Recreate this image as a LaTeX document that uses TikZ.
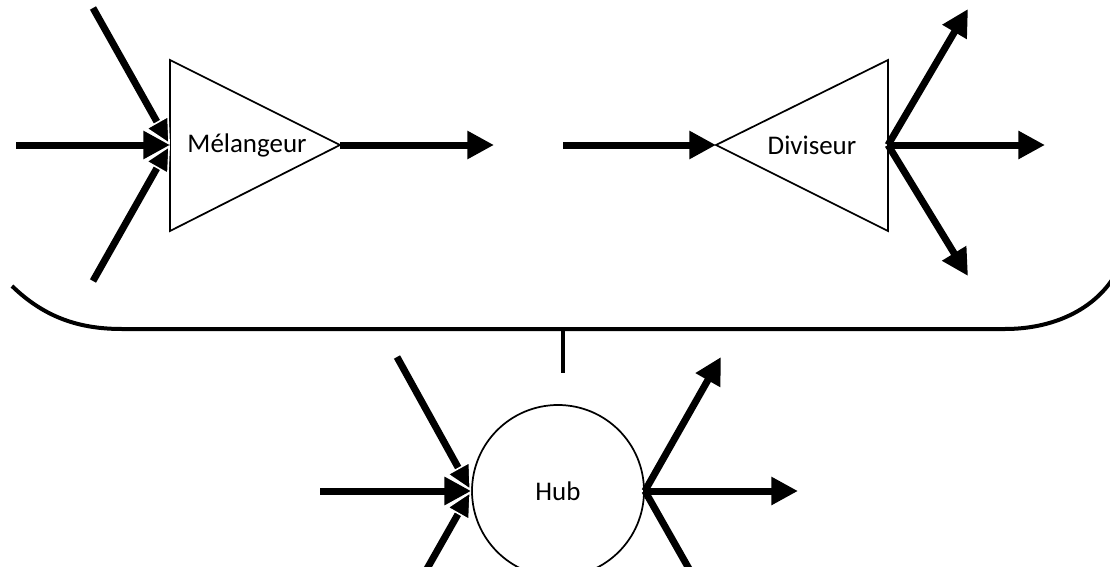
\documentclass[tikz,border=0pt]{standalone}
\usepackage{fontspec}
\setmainfont{Carlito}
\usetikzlibrary{arrows.meta}
\tikzset{
  flow/.style={line width=5.25pt, -{Triangle[length=20pt,width=20pt]}},
  flowin/.style={line width=5.25pt, -{Triangle[length=20pt,width=20pt,fill=black,color=white,line width=1.2pt]}},
  flowplain/.style={line width=5.25pt},
  shapeline/.style={line width=1.3pt},
  lbl/.style={font=\fontsize{20.2}{24}\selectfont, inner sep=0pt}
}
\begin{document}
\begin{tikzpicture}[x=0.75pt,y=-0.75pt]
\useasboundingbox (0,0) rectangle (1110,567);
\clip (0,0) rectangle (1110,567);
% shapes
\draw[shapeline] (170,60) -- (340,145) -- (170,231) -- cycle;
\draw[shapeline] (716,145) -- (888,60) -- (888,231) -- cycle;
\node[lbl] (mel) at (247,145) {Mélangeur};
\node[lbl] (div) at (812,145) {Diviseur};
\node[draw, circle, shapeline, minimum size=129pt, inner sep=0pt, font=\fontsize{20.2}{24}\selectfont] (hub) at (558,491) {Hub};
% connection points
\coordinate (melin) at (170,145);
\coordinate (melout) at (340,145);
\coordinate (divin) at (716,145);
\coordinate (divout) at (888,145);
% free ends
\coordinate (m1) at (16,145);
\coordinate (m2) at (93,8);
\coordinate (m3) at (93,281);
\coordinate (m4) at (494,145);
\coordinate (d0) at (563,145);
\coordinate (d1) at (968,9);
\coordinate (d2) at (1045,145);
\coordinate (d3) at (968,276);
\coordinate (h1) at (320,491);
\coordinate (h2) at (397,357);
\coordinate (h3) at (390,634);
\coordinate (h4) at (798,491);
\coordinate (h5) at (721,357);
\coordinate (h6) at (726,634);
% Melangeur
\draw[flow] (m1) -- (melin);
\draw[flowin] (m2) -- (melin);
\draw[flowin] (m3) -- (melin);
\draw[flow] (melout) -- (m4);
% Diviseur
\draw[flow] (d0) -- (divin);
\draw[flow] (divout) -- (d1);
\draw[flow] (divout) -- (d2);
\draw[flow] (divout) -- (d3);
% Hub
\draw[flow] (h1) -- (hub.west);
\draw[flowin] (h2) -- (hub.west);
\draw[flowin] (h3) -- (hub.west);
\draw[flow] (hub.east) -- (h4);
\draw[flow] (hub.east) -- (h5);
\draw[flowplain] (hub.east) -- (h6);
% brace
\coordinate (bl) at (12,286);
\coordinate (br) at (1112,280);
\coordinate (bm) at (563,329);
\coordinate (bt) at (563,373);
\draw[line width=3pt] (bl) .. controls (45,318) and (80,329) .. (122,329) -- (1005,329) .. controls (1050,329) and (1090,312) .. (br);
\draw[line width=3pt] (bm) -- (bt);
\end{tikzpicture}
\end{document}
